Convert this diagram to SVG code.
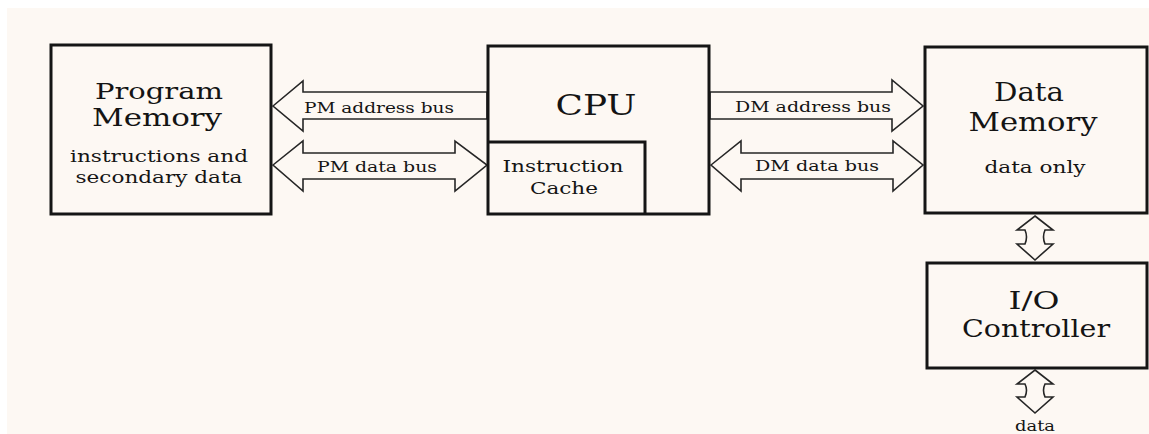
<svg xmlns="http://www.w3.org/2000/svg" width="1149" height="434" viewBox="0 0 1149 434">
  <style>
    .box { fill: none; stroke: #151515; stroke-width: 3; }
    .bus { fill: #fdf8f3; stroke: #262626; stroke-width: 1.6; stroke-linejoin: miter; }
    text { font-family: "DejaVu Serif", "Liberation Serif", serif; fill: #141414; text-anchor: middle; }
    .title { font-size: 26px; }
    .tight { font-size: 24px; }
    .sub { font-size: 17px; }
    .lbl { font-size: 15.5px; }
  </style>

  <!-- page -->
  <rect x="0" y="0" width="1149" height="434" fill="#ffffff"/>
  <rect x="7" y="8" width="1142" height="426" fill="#fdf8f3"/>

  <!-- buses -->
  <g id="connectors">
    <!-- PM address bus: CPU -> Program Memory -->
    <polygon class="bus" points="273,106 303,81 303,92 487,92 487,119 303,119 303,131"/>
    <!-- PM data bus: bidirectional -->
    <polygon class="bus" points="273,165 303,141 303,153 455,153 455,141 487,165 455,191 455,179 303,179 303,191"/>
    <!-- DM address bus: CPU -> Data Memory -->
    <polygon class="bus" points="710,92 892,92 892,80 923,106 892,131 892,119 710,119"/>
    <!-- DM data bus: bidirectional -->
    <polygon class="bus" points="711,165 741,141 741,153 893,153 893,141 923,165 893,191 893,179 741,179 741,191"/>
    <!-- Data Memory <-> I/O Controller -->
    <path class="bus" d="M1035,216 L1053,230 L1045,230 Q1042,237 1045,244 L1053,244 L1035,260 L1017,244 L1025,244 Q1028,237 1025,230 L1017,230 Z"/>
    <!-- I/O Controller <-> outside -->
    <path class="bus" d="M1035,370 L1053,384 L1045,384 Q1042,390 1045,397 L1053,397 L1035,413 L1017,397 L1025,397 Q1028,390 1025,384 L1017,384 Z"/>
    <text class="lbl" x="379" y="113" textLength="150" lengthAdjust="spacingAndGlyphs">PM address bus</text>
    <text class="lbl" x="377" y="172" textLength="120" lengthAdjust="spacingAndGlyphs">PM data bus</text>
    <text class="lbl" x="813" y="112" textLength="156" lengthAdjust="spacingAndGlyphs">DM address bus</text>
    <text class="lbl" x="817" y="171" textLength="124" lengthAdjust="spacingAndGlyphs">DM data bus</text>
    <text class="lbl" x="1035" y="431" textLength="40" lengthAdjust="spacingAndGlyphs">data</text>
  </g>

  <g id="program-memory">
    <rect class="box" x="51" y="45" width="220" height="169"/>
    <text class="tight" x="159" y="99" textLength="128" lengthAdjust="spacingAndGlyphs" style="font-size:23px">Program</text>
    <text class="tight" x="157" y="126" textLength="130" lengthAdjust="spacingAndGlyphs">Memory</text>
    <text class="sub" x="159" y="162" textLength="178" lengthAdjust="spacingAndGlyphs">instructions and</text>
    <text class="sub" x="159" y="183" textLength="167" lengthAdjust="spacingAndGlyphs">secondary data</text>
  </g>

  <g id="cpu">
    <rect class="box" x="488" y="46" width="221" height="168"/>
    <text class="title" x="596" y="115" textLength="81" lengthAdjust="spacingAndGlyphs" style="font-size:28px">CPU</text>
    <g id="instruction-cache">
      <polyline class="box" points="488,142 645,142 645,214"/>
      <text class="sub" x="563" y="172" textLength="121" lengthAdjust="spacingAndGlyphs">Instruction</text>
      <text class="sub" x="564" y="194" textLength="68" lengthAdjust="spacingAndGlyphs">Cache</text>
    </g>
  </g>

  <g id="data-memory">
    <rect class="box" x="925" y="47" width="222" height="166"/>
    <text class="title" x="1029" y="101" textLength="70" lengthAdjust="spacingAndGlyphs">Data</text>
    <text class="title" x="1033" y="131" textLength="129" lengthAdjust="spacingAndGlyphs">Memory</text>
    <text class="sub" x="1035" y="173" textLength="101" lengthAdjust="spacingAndGlyphs">data only</text>
  </g>

  <g id="io-controller">
    <rect class="box" x="927" y="263" width="220" height="105"/>
    <text class="tight" x="1034" y="309" textLength="51" lengthAdjust="spacingAndGlyphs">I/O</text>
    <text class="tight" x="1036" y="337" textLength="148" lengthAdjust="spacingAndGlyphs">Controller</text>
  </g>
</svg>
